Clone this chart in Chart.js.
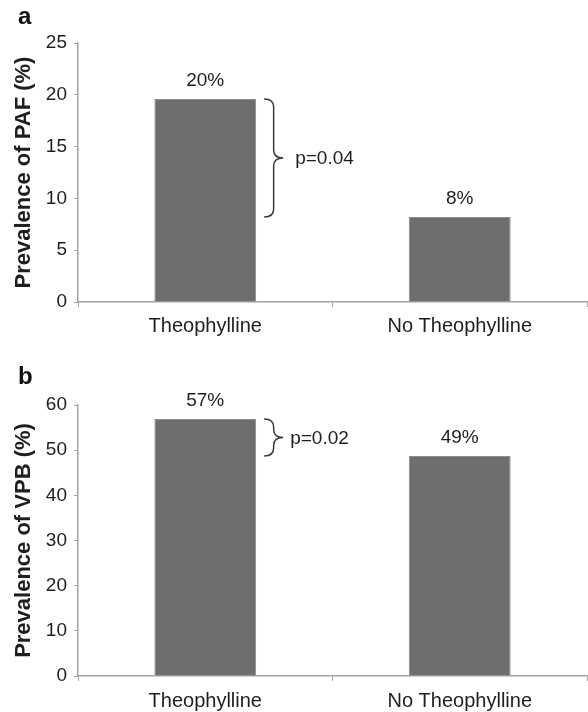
<!DOCTYPE html>
<html>
<head>
<meta charset="utf-8">
<script src="https://cdn.jsdelivr.net/npm/chart.js@4/dist/chart.umd.min.js"></script>
<style>
  html, body { margin: 0; padding: 0; background: #fff; }
  #wrap { position: relative; width: 588px; height: 712px; }
  .panel { position: absolute; left: 0; }
  .letter { position: absolute; font: bold 24px "Liberation Sans", Arial, sans-serif; color: #111; }
</style>
</head>
<body>
<div id="wrap">
  <div class="panel" style="top:0; width:588px; height:340px;"><canvas id="chartA"></canvas></div>
  <div class="panel" style="top:340px; width:588px; height:372px;"><canvas id="chartB"></canvas></div>
  <div class="letter" style="left:18px; top:2px;">a</div>
  <div class="letter" style="left:18px; top:362px;">b</div>
</div>
<script>
const categories = ['Theophylline', 'No Theophylline'];

const pafValues = [19.6, 8.2];
const pafLabels = ['20%', '8%'];
const pafMax = 25;
const pafStep = 5;
const pafP = 'p=0.04';

const vpbValues = [56.9, 48.7];
const vpbLabels = ['57%', '49%'];
const vpbMax = 60;
const vpbStep = 10;
const vpbP = 'p=0.02';

const FONT = '"Liberation Sans", Arial, sans-serif';
const AXIS = '#a3a3a3';
const TEXT = '#1e1e1e';

// value labels above the bars plus the brace with its p value
const annotate = {
    id: 'annotate',
    afterDatasetsDraw(chart, args, opts) {
        const ctx = chart.ctx;
        const bars = chart.getDatasetMeta(0).data;
        ctx.save();
        ctx.fillStyle = TEXT;
        ctx.font = '19px ' + FONT;
        ctx.textAlign = 'center';
        ctx.textBaseline = 'middle';
        bars.forEach((b, i) => {
            ctx.fillText(opts.labels[i], b.x, b.y - 18);
        });

        const x = bars[0].x + bars[0].width / 2 + 8;
        const yTop = bars[0].y;
        const yBot = bars[1].y;
        const w = 19;
        const mid = (yTop + yBot) / 2;
        const r = Math.min(8, (yBot - yTop) / 4);
        ctx.strokeStyle = '#3a3a3a';
        ctx.lineWidth = 1.5;
        ctx.beginPath();
        ctx.moveTo(x, yTop);
        ctx.quadraticCurveTo(x + w / 2, yTop, x + w / 2, yTop + r);
        ctx.lineTo(x + w / 2, mid - r);
        ctx.quadraticCurveTo(x + w / 2, mid, x + w, mid);
        ctx.quadraticCurveTo(x + w / 2, mid, x + w / 2, mid + r);
        ctx.lineTo(x + w / 2, yBot - r);
        ctx.quadraticCurveTo(x + w / 2, yBot, x, yBot);
        ctx.stroke();

        ctx.textAlign = 'left';
        ctx.fillText(opts.p, x + w + opts.gap, mid + 1);
        ctx.restore();
    }
};

function makeChart(id, values, labels, max, step, title, pText, gap, topPad, xHeight, xPad) {
    return new Chart(document.getElementById(id), {
        type: 'bar',
        data: {
            labels: categories,
            datasets: [{
                data: values,
                backgroundColor: '#6e6e6e',
                borderColor: '#8c8c8c',
                borderWidth: 1,
                categoryPercentage: 1,
                barPercentage: 0.4
            }]
        },
        options: {
            responsive: true,
            maintainAspectRatio: false,
            animation: false,
            layout: { padding: { top: topPad, right: 1, left: 0, bottom: 0 } },
            plugins: {
                legend: { display: false },
                tooltip: { enabled: false },
                annotate: { labels: labels, p: pText, gap: gap }
            },
            scales: {
                x: {
                    afterFit: s => { s.height = xHeight; },
                    grid: { offset: true, drawOnChartArea: false, tickLength: 5, color: AXIS },
                    border: { color: AXIS, width: 1.5 },
                    ticks: { color: TEXT, font: { family: FONT, size: 20 }, padding: xPad, maxRotation: 0 }
                },
                y: {
                    min: 0,
                    max: max,
                    afterFit: s => { s.width = 78; },
                    grid: { drawOnChartArea: false, tickLength: 4, color: AXIS },
                    border: { color: AXIS, width: 1.5 },
                    ticks: { stepSize: step, color: TEXT, font: { family: FONT, size: 19 }, padding: 7 },
                    title: {
                        display: true,
                        text: title,
                        color: TEXT,
                        font: { family: FONT, size: 22, weight: 'bold' },
                        padding: { top: 11, bottom: 0 }
                    }
                }
            }
        },
        plugins: [annotate]
    });
}

makeChart('chartA', pafValues, pafLabels, pafMax, pafStep, 'Prevalence of PAF (%)', pafP, 12, 43, 38, 7);
makeChart('chartB', vpbValues, vpbLabels, vpbMax, vpbStep, 'Prevalence of VPB (%)', vpbP, 7, 65, 36, 8);
</script>
</body>
</html>
